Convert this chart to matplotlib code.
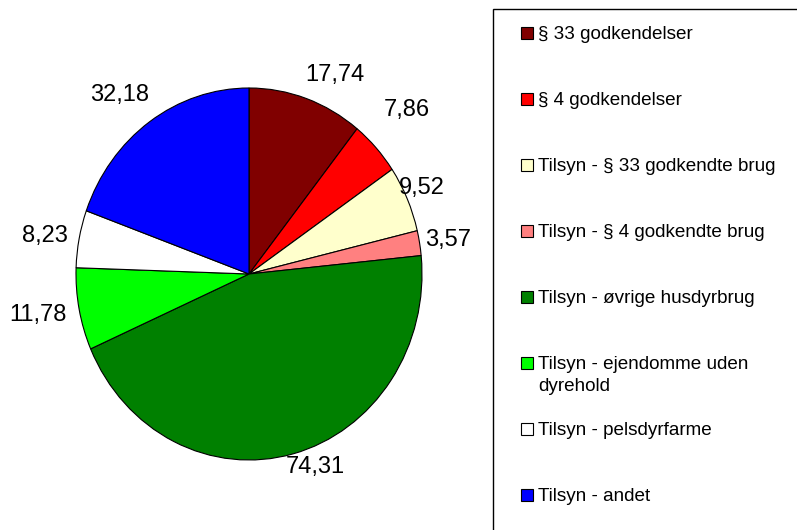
import matplotlib
matplotlib.use("Agg")
import numpy as np
import matplotlib.pyplot as plt
from matplotlib.patches import Rectangle

# ── Data ──────────────────────────────────────────────────────────────────────
categories = [
    "§ 33 godkendelser",
    "§ 4 godkendelser",
    "Tilsyn - § 33 godkendte brug",
    "Tilsyn - § 4 godkendte brug",
    "Tilsyn - øvrige husdyrbrug",
    "Tilsyn - ejendomme uden\ndyrehold",
    "Tilsyn - pelsdyrfarme",
    "Tilsyn - andet",
]
values = [17.74, 7.86, 9.52, 3.57, 74.31, 11.78, 8.23, 32.18]
colors = ["#800000", "#FF0000", "#FFFFCC", "#FF8080",
          "#008000", "#00FF00", "#FFFFFF", "#0000FF"]

# label nudges from the wedge rim, in pixels (x right, y up)
label_offsets = [(29, 23), (31, 38), (15, 11), (28, 3),
                 (22, -13), (-41, -6), (-34, 3), (-30, 27)]

plt.rcParams["font.family"] = ["Liberation Sans", "DejaVu Sans"]

W, H = 797, 530
fig = plt.figure(figsize=(W / 100, H / 100), dpi=100)

# pie axes (Excel stretched the pie slightly vertically)
ax = fig.add_axes([76 / W, 70 / H, 346 / W, 372 / H])
wedges, _ = ax.pie(values, colors=colors, startangle=90, counterclock=False,
                   wedgeprops=dict(edgecolor="black", linewidth=0.8))
ax.set_aspect("auto")
ax.set_xlim(-1, 1)
ax.set_ylim(-1, 1)
ax.axis("off")

for w, v, off in zip(wedges, values, label_offsets):
    w.set_clip_on(False)
    theta = np.deg2rad((w.theta1 + w.theta2) / 2)
    ax.annotate(f"{v:.2f}".replace(".", ","), xy=(np.cos(theta), np.sin(theta)),
                xytext=off, textcoords="offset pixels",
                ha="center", va="center", fontsize=17, annotation_clip=False)

# ── Legend box (drawn by hand, Excel style) ──────────────────────────────────
fig.patches.append(Rectangle((493 / W, -20 / H), 340 / W, (H - 9 + 20) / H,
                             transform=fig.transFigure, fill=False,
                             edgecolor="black", linewidth=1.0))

y0, step = 33, 66
for i, (lab, col) in enumerate(zip(categories, colors)):
    yc = y0 + i * step
    fig.patches.append(Rectangle((521 / W, 1 - (yc + 6) / H), 12 / W, 12 / H,
                                 transform=fig.transFigure, facecolor=col,
                                 edgecolor="black", linewidth=0.8))
    lines = lab.split("\n")
    for j, line in enumerate(lines):
        fig.text(538 / W, 1 - (yc + 6 + j * 22) / H, line, fontsize=13.6,
                 ha="left", va="baseline")

plt.savefig("out.png", dpi=100)
